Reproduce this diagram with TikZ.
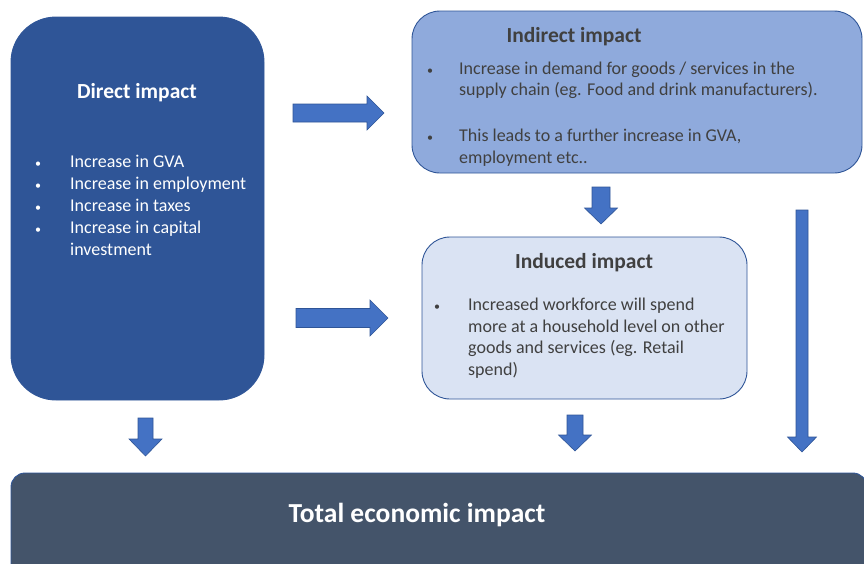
\documentclass[tikz,border=0pt]{standalone}
\usepackage{fontspec}
\setmainfont{Carlito}
\definecolor{dirblue}{HTML}{2F5597}
\definecolor{indfill}{HTML}{8FAADC}
\definecolor{inducfill}{HTML}{DAE3F3}
\definecolor{arrfill}{HTML}{4472C4}
\definecolor{totfill}{HTML}{44546A}
\definecolor{txtgray}{HTML}{404040}
\newcommand\DownArr[6]{% xc, hs, hh, y0, yh, yt
  \filldraw[blockarrow] (#1-#2,#4) -- (#1+#2,#4) -- (#1+#2,#5) -- (#1+#3,#5) -- (#1,#6) -- (#1-#3,#5) -- (#1-#2,#5) -- cycle;}
\newcommand\RightArr[6]{% yc, hs, hh, x0, xh, xt
  \filldraw[blockarrow] (#4,#1-#2) -- (#5,#1-#2) -- (#5,#1-#3) -- (#6,#1) -- (#5,#1+#3) -- (#5,#1+#2) -- (#4,#1+#2) -- cycle;}
\begin{document}
\begin{tikzpicture}[x=1pt,y=-1pt,
  blockarrow/.style={fill=arrfill,draw=dirblue,line width=0.6pt},
  boxstyle/.style={rectangle,inner sep=0pt,line width=0.9pt},
  title/.style={anchor=base,font=\fontsize{21.5}{24}\selectfont\bfseries},
  body/.style={anchor=base west,inner sep=0pt,font=\fontsize{18}{20}\selectfont},
  bul/.style={anchor=base,inner sep=0pt,font=\fontsize{12}{14}\selectfont}]
\useasboundingbox (0,0) rectangle (864,563);
\clip (0,0) rectangle (864,563);
% boxes
\node[boxstyle,fill=dirblue,draw=dirblue,rounded corners=45pt,minimum width=253pt,minimum height=383pt] (direct) at (137.5,208.5) {};
\node[boxstyle,fill=indfill,draw=dirblue,rounded corners=28pt,minimum width=450pt,minimum height=162pt] (indirect) at (637,92) {};
\node[boxstyle,fill=inducfill,draw=dirblue,rounded corners=28pt,minimum width=325pt,minimum height=162pt] (induced) at (584.5,318) {};
\node[boxstyle,fill=totfill,draw=dirblue,rounded corners=14pt,minimum width=856pt,minimum height=140pt] (total) at (439,543) {};
% direct text
\node[title,text=white] (dtitle) at (137,98) {Direct impact};
\begin{scope}[text=white]
\node[bul] (db1) at (38,167) {•};
\node[body] (dl1) at (70,167) {Increase in GVA};
\node[bul] (db2) at (38,189) {•};
\node[body] (dl2) at (70,189) {Increase in employment};
\node[bul] (db3) at (38,211) {•};
\node[body] (dl3) at (70,211) {Increase in taxes};
\node[bul] (db4) at (38,233) {•};
\node[body] (dl4) at (70,233) {Increase in capital};
\node[body] (dl5) at (70,255) {investment};
\end{scope}
% indirect text
\begin{scope}[text=txtgray]
\node[title] (ititle) at (574,42) {Indirect impact};
\node[bul] (ib1) at (430,74) {•};
\node[body] (il1) at (459,74) {Increase in demand for goods / services in the};
\node[body] (il2) at (459,95) {supply chain (eg. Food and drink manufacturers).};
\node[bul] (ib2) at (430,141) {•};
\node[body] (il3) at (459,141) {This leads to a further increase in GVA,};
\node[body] (il4) at (459,163) {employment etc..};
% induced text
\node[title] (ntitle) at (584,268) {Induced impact};
\node[bul] (nb1) at (437,310) {•};
\node[body] (nl1) at (468,310) {Increased workforce will spend};
\node[body] (nl2) at (468,332) {more at a household level on other};
\node[body] (nl3) at (468,353) {goods and services (eg. Retail};
\node[body] (nl4) at (468,375) {spend)};
\end{scope}
% total text
\node[anchor=base,text=white,font=\fontsize{27.5}{32}\selectfont\bfseries] (ttext) at (417,522) {Total economic impact};
% arrows
\RightArr{113}{9}{17}{293}{367}{384}
\RightArr{318}{9.5}{18}{296}{370}{388}
\DownArr{145.5}{7.5}{16.5}{418}{439}{456}
\DownArr{601}{9}{16.5}{187}{208}{224}
\DownArr{575}{8}{16.5}{415}{435}{451}
\DownArr{802}{6}{14.5}{210}{437}{452}
\end{tikzpicture}
\end{document}
